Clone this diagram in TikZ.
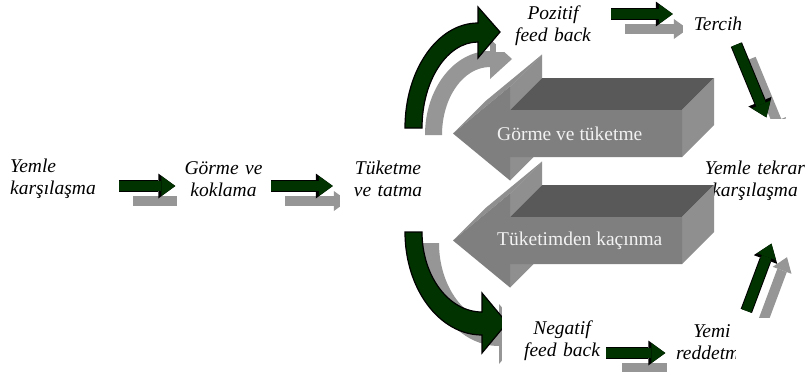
\documentclass[tikz,border=0pt]{standalone}
\usepackage{fontspec}
\setmainfont{Liberation Serif}
\usetikzlibrary{arrows.meta,calc,positioning}

\definecolor{arrowgreen}{RGB}{0,51,0}
\definecolor{shadowgray}{RGB}{150,150,150}
\definecolor{boxfront}{RGB}{127,127,127}
\definecolor{boxtop}{RGB}{89,89,89}
\definecolor{boxside}{RGB}{143,143,143}

\pgfdeclarelayer{back}
\pgfdeclarelayer{front}
\pgfsetlayers{back,main,front}

\tikzset{
  lbl/.style={fill=white, inner sep=0pt, align=center,
    font=\itshape\fontsize{19.5}{22}\selectfont},
  bigtxt/.style={inner sep=0pt, text=white!95!black,
    font=\fontsize{19.5}{22}\selectfont},
  darr/.style={draw=arrowgreen, line width=10pt, shorten <=1pt, shorten >=1.5pt,
    -{Triangle[length=14pt,width=20pt,line width=0pt]},
    preaction={draw=black, line width=12pt,
      -{Triangle[length=17pt,width=25pt,line width=0pt]}}},
  sarr/.style={draw=shadowgray, line width=10pt,
    -{Triangle[length=14pt,width=20pt,line width=0pt]},
    transform canvas={shift={(15pt,-15pt)}}},
  curv/.style={fill=arrowgreen, draw=black, line width=1.2pt}
}

\begin{document}
\begin{tikzpicture}[x=1pt,y=-1pt]
\useasboundingbox (0,0) rectangle (806,372);

% labels
\node[lbl, align=left, text width=108pt, anchor=west, minimum height=56pt] (yemle) at (10,179) {Yemle\\karşılaşma};
\node[lbl, text width=93pt, minimum height=68pt] (gorme) at (223.5,179) {Görme ve\\koklama};
\node[lbl, text width=96pt, minimum height=68pt] (tuketme) at (388,179) {Tüketme\\ve tatma};
\node[lbl, text width=114pt, minimum height=52pt] (pozitif) at (553,26) {Pozitif\\feed back};
\node[lbl, text width=70pt, minimum height=40pt] (tercih) at (718,23.5) {Tercih};
\node[lbl, text width=106pt, minimum height=123pt] (tekrar) at (755,180.5) {Yemle tekrar\\karşılaşma};
\node[lbl, text width=120pt, minimum height=100pt] (negatif) at (562,340.5) {Negatif\\feed back};
\node[lbl, text width=90pt, minimum height=61pt] (yemi) at (712,342.5) {Yemi\\reddetme};

% shadows and the lower curved arrow
\begin{pgfonlayer}{back}
  \fill[white] (0,0) rectangle (806,372);
  \draw[sarr] ([yshift=-7pt]yemle.east) -- ([yshift=-7pt]gorme.west);
  \draw[sarr, shorten >=7pt] ([yshift=-7pt]gorme.east) -- ([yshift=-7pt]tuketme.west);
  \draw[sarr, shorten >=10pt] ([yshift=12pt]pozitif.east) -- ([yshift=9.5pt]tercih.west);
  \draw[sarr] ([xshift=18pt]tercih.south) -- ([xshift=12pt]tekrar.north);
  \draw[sarr] ([xshift=-17pt,yshift=-12.5pt]negatif.east) -- ([yshift=-10.5pt]yemi.west);
  \draw[sarr] ([xshift=34pt]yemi.north) -- ([xshift=17pt]tekrar.south);
  \fill[shadowgray] (425,135) arc[start angle=180,end angle=270,x radius=65,y radius=84]
    -- (490,39) -- (512,59) -- (490,79) -- (490,67)
    arc[start angle=270,end angle=180,x radius=48,y radius=68] -- cycle;
  \fill[shadowgray, shift={(17,11)}] (405,232) arc[start angle=180,end angle=90,x radius=77,y radius=103]
    -- (482,353) -- (507,323) -- (482,293) -- (482,312)
    arc[start angle=90,end angle=180,x radius=60,y radius=80] -- cycle;
  \filldraw[curv] (405,232) arc[start angle=180,end angle=90,x radius=77,y radius=103]
    -- (482,353) -- (507,323) -- (482,293) -- (482,312)
    arc[start angle=90,end angle=180,x radius=60,y radius=80] -- cycle;
\end{pgfonlayer}

% 3D block arrows
\foreach \dy/\lab in {107/Tüketimden kaçınma,0/Görme ve tüketme}{
  \begin{scope}[shift={(0,\dy)}]
    \fill[boxside] (510,157) -- (510,180.5) -- (542,148.5) -- (542,125) -- cycle;
    \fill[boxside] (453,133.5) -- (510,86.5) -- (542,54.5) -- (485,101.5) -- cycle;
    \fill[boxside] (510,86.5) -- (510,110) -- (542,78) -- (542,54.5) -- cycle;
    \fill[boxtop] (510,110) -- (682,110) -- (714,78) -- (542,78) -- cycle;
    \fill[boxside] (682,110) -- (682,157) -- (714,125) -- (714,78) -- cycle;
    \fill[boxfront] (453,133.5) -- (510,86.5) -- (510,110) -- (682,110) -- (682,157)
      -- (510,157) -- (510,180.5) -- cycle;
    \node[bigtxt, anchor=west] (big\dy) at (497,133.5) {\lab};
  \end{scope}
}

\fill[white] (736,318) rectangle (806,372);

% green arrows
\begin{pgfonlayer}{front}
  \draw[darr] ([yshift=-7pt]yemle.east) -- ([yshift=-7pt]gorme.west);
  \draw[darr, shorten >=7pt] ([yshift=-7pt]gorme.east) -- ([yshift=-7pt]tuketme.west);
  \draw[darr, shorten >=10pt] ([yshift=12pt]pozitif.east) -- ([yshift=9.5pt]tercih.west);
  \draw[darr] ([xshift=18pt]tercih.south) -- ([xshift=12pt]tekrar.north);
  \draw[darr] ([xshift=-17pt,yshift=-12.5pt]negatif.east) -- ([yshift=-10.5pt]yemi.west);
  \draw[darr] ([xshift=34pt]yemi.north) -- ([xshift=17pt]tekrar.south);
  \filldraw[curv] (405,128) arc[start angle=180,end angle=270,x radius=73,y radius=105]
    -- (478,7) -- (500,32) -- (478,58) -- (478,42)
    arc[start angle=270,end angle=180,x radius=56,y radius=86] -- cycle;
\end{pgfonlayer}
\end{tikzpicture}
\end{document}
